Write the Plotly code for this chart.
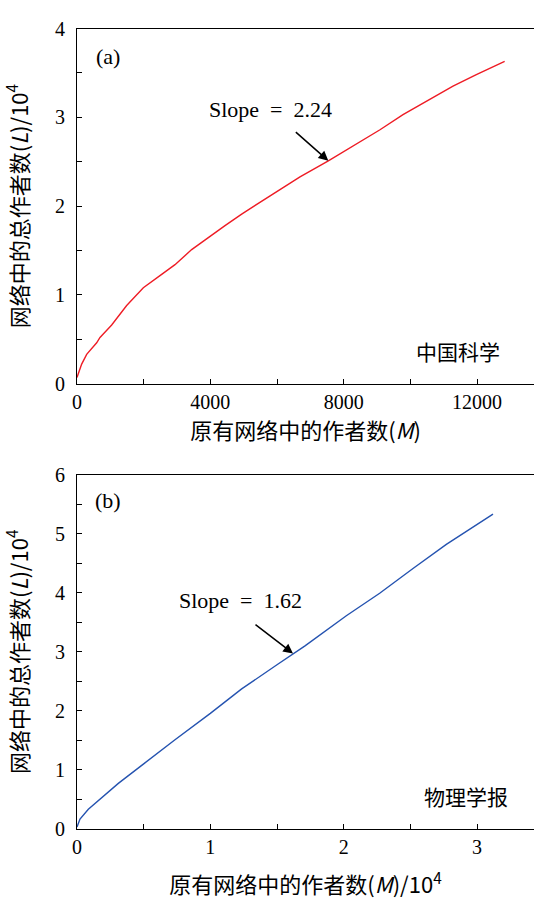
import plotly.graph_objects as go

# Panel (a): 中国科学
a_x = [0, 20, 140, 290, 590, 690, 1040, 1490, 1990, 2540, 2940, 3440, 3940, 4440, 4940,
       5480, 5790, 6690, 7540, 8290, 9090, 9780, 10480, 11280, 11980, 12830]
a_y = [0.07, 0.095, 0.22, 0.33, 0.46, 0.52, 0.66, 0.88, 1.08, 1.23, 1.34, 1.51, 1.65, 1.78, 1.91,
       2.04, 2.12, 2.33, 2.51, 2.68, 2.86, 3.03, 3.18, 3.35, 3.48, 3.63]

# Panel (b): 物理学报 (units of 10^4)
b_x = [0, 0.0225, 0.085, 0.21, 0.31, 0.5, 0.735, 1.0, 1.235, 1.5, 1.62, 1.71, 2.02, 2.27,
       2.52, 2.77, 3.12]
b_y = [0.03, 0.165, 0.33, 0.58, 0.77, 1.10, 1.51, 1.955, 2.37, 2.78, 2.97, 3.10, 3.61, 3.99,
       4.41, 4.82, 5.33]

a_xticks = [0, 4000, 8000, 12000]
a_xticktext = ["0", "4000", "8000", "12000"]
a_yticks = [0, 1, 2, 3, 4]
b_xticks = [0, 1, 2, 3]
b_yticks = [0, 1, 2, 3, 4, 5, 6]

FONT = "'Liberation Serif', 'Noto Sans CJK SC', serif"
CJK = "'Noto Sans CJK SC', 'Liberation Serif', serif"

fig = go.Figure()
fig.add_trace(go.Scatter(x=a_x, y=a_y, mode="lines", line=dict(color="#ee1c25", width=1.4),
                         xaxis="x", yaxis="y", showlegend=False))
fig.add_trace(go.Scatter(x=b_x, y=b_y, mode="lines", line=dict(color="#2553b0", width=1.4),
                         xaxis="x2", yaxis="y2", showlegend=False))

axis_common = dict(showline=True, linecolor="black", linewidth=1.2, ticks="inside", ticklen=5,
                   tickcolor="black", showgrid=False, zeroline=False,
                   tickfont=dict(family=FONT, size=20, color="black"))

ytitle = "网络中的总作者数(<i>L</i>)/10<sup>4</sup>"
tfont = dict(family=CJK, size=22, color="black")

fig.update_layout(
    width=534, height=899,
    margin=dict(l=77, r=0, t=0, b=0),
    paper_bgcolor="white", plot_bgcolor="white",
    xaxis=dict(domain=[0, 1], anchor="y", range=[0, 13710], tickvals=a_xticks, ticktext=a_xticktext,
               mirror=True,
               minor=dict(tickvals=[2000, 6000, 10000], ticks="inside", ticklen=5, tickcolor="black"),
               title=dict(text="原有网络中的作者数(<i>M</i>)", font=tfont, standoff=7),
               **axis_common),
    yaxis=dict(domain=[0.5751, 0.9800], anchor="x", range=[0, 4], tickvals=a_yticks,
               ticklabelstandoff=7,
               minor=dict(tickvals=[0.5, 1.5, 2.5, 3.5], ticks="inside", ticklen=5, tickcolor="black"),
               title=dict(text=ytitle, font=tfont, standoff=20),
               **axis_common),
    xaxis2=dict(domain=[0, 1], anchor="y2", range=[0, 3.4275], tickvals=b_xticks, mirror=True,
                minor=dict(tickvals=[0.5, 1.5, 2.5], ticks="inside", ticklen=5, tickcolor="black"),
                title=dict(text="原有网络中的作者数(<i>M</i>)/10<sup>4</sup>", font=tfont, standoff=20),
                **axis_common),
    yaxis2=dict(domain=[0.0675, 0.4713], anchor="x2", range=[0, 6], tickvals=b_yticks,
                ticklabelstandoff=7,
                minor=dict(tickvals=[0.5, 1.5, 2.5, 3.5, 4.5, 5.5], ticks="inside", ticklen=5, tickcolor="black"),
                title=dict(text=ytitle, font=tfont, standoff=20),
                **axis_common),
)

ann_font = dict(family=FONT, size=22, color="black")
cjk_font = dict(family=CJK, size=21, color="black")
annotations = [
    dict(x=930, y=3.68, xref="x", yref="y", text="(a)", showarrow=False, font=ann_font),
    dict(x=5790, y=3.09, xref="x", yref="y", text="Slope\u2002=\u20022.24", showarrow=False, font=ann_font),
    dict(x=7540, y=2.51, xref="x", yref="y", text="", showarrow=True, ax=-34, ay=-30,
         arrowhead=2, arrowsize=1.3, arrowwidth=1.5, arrowcolor="black"),
    dict(x=11430, y=0.37, xref="x", yref="y", text="中国科学", showarrow=False, font=cjk_font),
    dict(x=0.2325, y=5.56, xref="x2", yref="y2", text="(b)", showarrow=False, font=ann_font),
    dict(x=1.2225, y=3.86, xref="x2", yref="y2", text="Slope\u2002=\u20021.62", showarrow=False, font=ann_font),
    dict(x=1.62, y=2.97, xref="x2", yref="y2", text="", showarrow=True, ax=-39, ay=-30,
         arrowhead=2, arrowsize=1.3, arrowwidth=1.5, arrowcolor="black"),
    dict(x=2.9175, y=0.555, xref="x2", yref="y2", text="物理学报", showarrow=False, font=cjk_font),
]
fig.update_layout(annotations=annotations)

fig.write_html("out.html")
